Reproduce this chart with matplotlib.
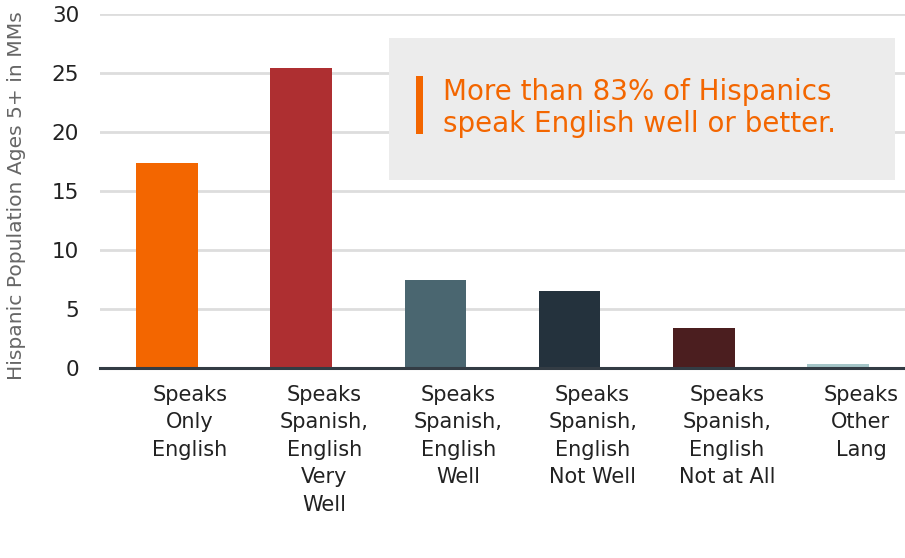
import numpy as np
import matplotlib.pyplot as plt
import matplotlib.transforms as mtransforms
from matplotlib.patches import Rectangle

categories = ["Speaks\nOnly\nEnglish",
              "Speaks\nSpanish,\nEnglish\nVery\nWell",
              "Speaks\nSpanish,\nEnglish\nWell",
              "Speaks\nSpanish,\nEnglish\nNot Well",
              "Speaks\nSpanish,\nEnglish\nNot at All",
              "Speaks\nOther\nLang"]
values = [17.4, 25.4, 7.5, 6.5, 3.4, 0.3]
colors = ["#f36600", "#ae2f31", "#4a6670", "#24323d", "#4b1e1f", "#a5c6c8"]
yticks = [0, 5, 10, 15, 20, 25, 30]
callout = ["More than 83% of Hispanics", "speak English well or better."]

plt.rcParams['font.family'] = ['DejaVu Sans']

fig = plt.figure(figsize=(9.05, 5.58), dpi=100)
ax = fig.add_axes([100 / 905, 1 - 368 / 558, 805 / 905, 354 / 558])

x = np.arange(len(categories))
ax.bar(x, values, width=0.46, color=colors, zorder=3)

ax.set_xlim(-0.5, len(categories) - 0.5)
ax.set_ylim(0, 30)
ax.set_yticks(yticks)
ax.yaxis.grid(True, color="#dddddd", linewidth=2, zorder=0)
ax.set_axisbelow(True)
for s in ["left", "right", "top"]:
    ax.spines[s].set_visible(False)
ax.spines["bottom"].set_color("#333c44")
ax.spines["bottom"].set_linewidth(2.2)
ax.spines["bottom"].set_zorder(4)

ax.tick_params(axis="y", length=0, pad=15, labelsize=15.5, labelcolor="#222222")
ax.tick_params(axis="x", length=0, pad=12, labelsize=15, labelcolor="#222222")
ax.set_xticks(x)
ax.set_xticklabels(categories, linespacing=1.47)
offset = mtransforms.ScaledTranslation(23 / 100, 0, fig.dpi_scale_trans)
for lab in ax.get_xticklabels():
    lab.set_transform(lab.get_transform() + offset)

ax.set_ylabel("Hispanic Population Ages 5+ in MMs", fontsize=14.6,
              color="#666666")
ax.yaxis.set_label_coords(-74 / 805, 0.486)

# callout box
fig.patches.append(Rectangle((389 / 905, 1 - 180 / 558), 506 / 905, 142 / 558,
                             transform=fig.transFigure, facecolor="#ececec",
                             edgecolor="none", zorder=5))
fig.patches.append(Rectangle((416 / 905, 1 - 134 / 558), 7 / 905, 58 / 558,
                             transform=fig.transFigure, facecolor="#f36600",
                             edgecolor="none", zorder=6))
for i, line in enumerate(callout):
    fig.text(443 / 905, 1 - (100 + 32 * i) / 558, line,
             fontsize=20, color="#f36600", va="baseline", ha="left", zorder=7)

fig.savefig("out.png", dpi=100)
